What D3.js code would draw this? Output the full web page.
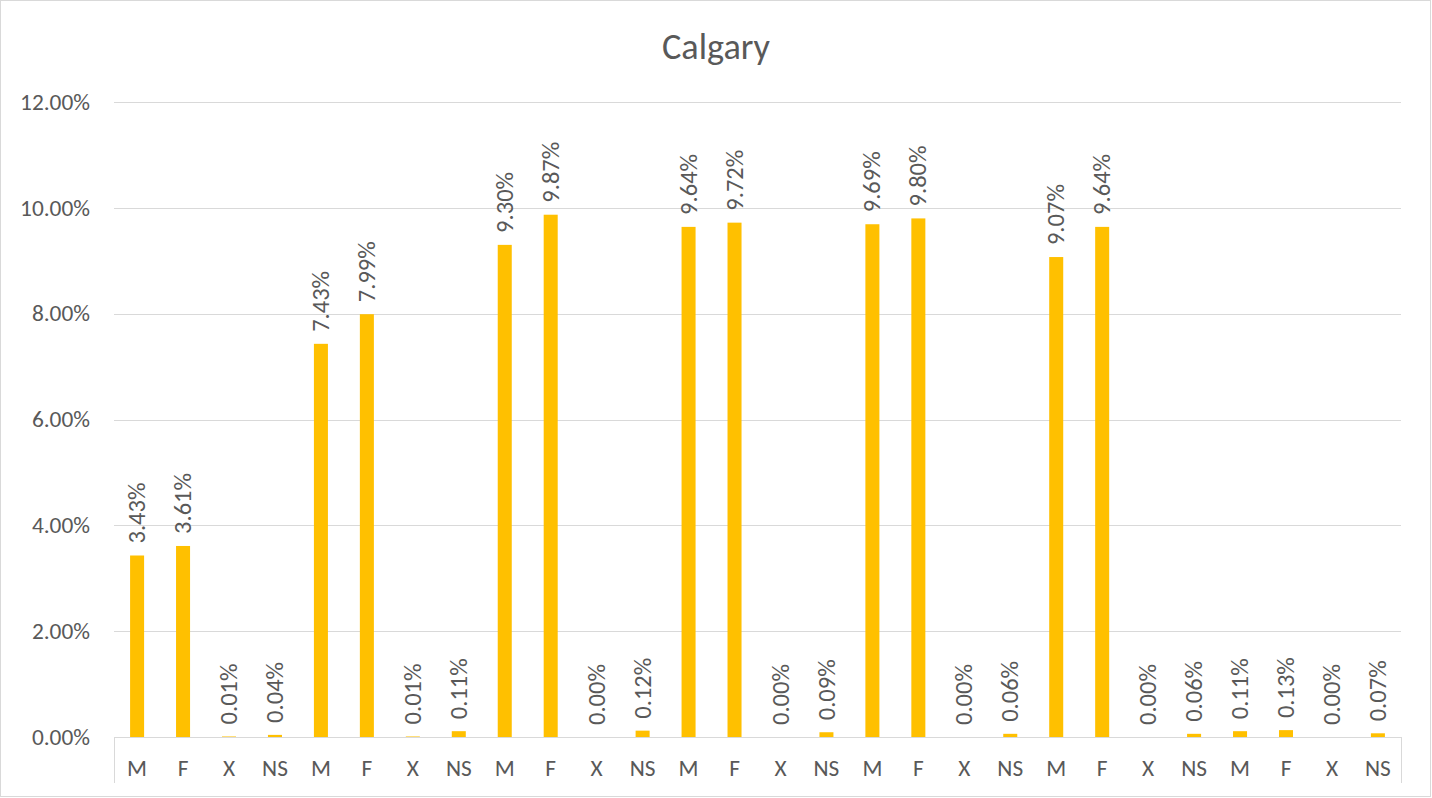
<!DOCTYPE html>
<html><head><meta charset="utf-8">
<script src="https://cdn.jsdelivr.net/npm/d3@7"></script>
<style>html,body{margin:0;padding:0;background:#fff;}svg{display:block;}</style>
</head><body>
<script>
const categories = ["M","F","X","NS","M","F","X","NS","M","F","X","NS","M","F","X","NS","M","F","X","NS","M","F","X","NS","M","F","X","NS"];
const values = [3.43,3.61,0.01,0.04, 7.43,7.99,0.01,0.11, 9.30,9.87,0.00,0.12, 9.64,9.72,0.00,0.09, 9.69,9.80,0.00,0.06, 9.07,9.64,0.00,0.06, 0.11,0.13,0.00,0.07];
const yTicks = [0,2,4,6,8,10,12];
const title = "Calgary";

(function(){
const W = 1432, H = 798;
const pL = 114, pR = 1401, pT = 102, pB = 737;
const font = "Calibri, Carlito, 'Liberation Sans', Arial, sans-serif";
const textColor = "#595959", gridColor = "#d9d9d9", barColor = "#FFC000";

const svg = d3.select("body").append("svg").attr("width", W).attr("height", H);

// fit font size so that a sample string reaches a target width
function fit(str, target, base) {
  const t = svg.append("text").attr("font-family",font).attr("font-size",base).text(str);
  const w = t.node().getComputedTextLength();
  t.remove();
  return w > 0 ? base * target / w : base;
}
const fsTick = fit("12.00%", 70, 24);
const fsLab = fit("3.43%", 61, 24);
const fsTitle = fit("Calgary", 108, 35);

svg.append("rect").attr("x",0.5).attr("y",0.5).attr("width",W-2).attr("height",H-2)
  .attr("fill","#fff").attr("stroke",gridColor);

const x = d3.scaleBand().domain(d3.range(categories.length)).range([pL,pR]).paddingInner(0.695).paddingOuter(0.35);
const y = d3.scaleLinear().domain([0,12]).range([pB,pT]);

svg.append("g").selectAll("line").data(yTicks.filter(d=>d>0)).join("line")
  .attr("x1",pL).attr("x2",pR).attr("y1",d=>Math.round(y(d))+0.5).attr("y2",d=>Math.round(y(d))+0.5)
  .attr("stroke",gridColor).attr("stroke-width",1);

svg.append("g").selectAll("text").data(yTicks).join("text")
  .attr("x",90).attr("y",d=>y(d)).attr("dy","0.33em").attr("text-anchor","end")
  .attr("font-family",font).attr("font-size",fsTick).attr("fill",textColor)
  .text(d=>d.toFixed(2)+"%");

svg.append("g").selectAll("rect").data(values).join("rect")
  .attr("x",(d,i)=>x(i)).attr("width",x.bandwidth())
  .attr("y",d=>y(d)).attr("height",d=>pB-y(d)).attr("fill",barColor);

const ax = svg.append("g").attr("stroke",gridColor).attr("stroke-width",1);
ax.append("line").attr("x1",pL).attr("x2",pR+0.5).attr("y1",pB+0.5).attr("y2",pB+0.5);
ax.append("line").attr("x1",pL+0.5).attr("x2",pL+0.5).attr("y1",pB).attr("y2",783);
ax.append("line").attr("x1",pR+0.5).attr("x2",pR+0.5).attr("y1",pB).attr("y2",783);

svg.append("g").selectAll("text").data(categories).join("text")
  .attr("x",(d,i)=>x(i)+x.bandwidth()/2).attr("y",776).attr("text-anchor","middle")
  .attr("font-family",font).attr("font-size",fsTick).attr("fill",textColor).text(d=>d);

svg.append("g").selectAll("text").data(values).join("text")
  .attr("transform",(d,i)=>`translate(${x(i)+x.bandwidth()/2},${y(d)-12}) rotate(-90)`)
  .attr("dy","0.33em").attr("text-anchor","start")
  .attr("font-family",font).attr("font-size",fsLab).attr("fill",textColor)
  .text(d=>d.toFixed(2)+"%");

svg.append("text").attr("x",716).attr("y",59).attr("text-anchor","middle")
  .attr("font-family",font).attr("font-size",fsTitle).attr("fill",textColor).text(title);
})();
</script>
</body></html>
